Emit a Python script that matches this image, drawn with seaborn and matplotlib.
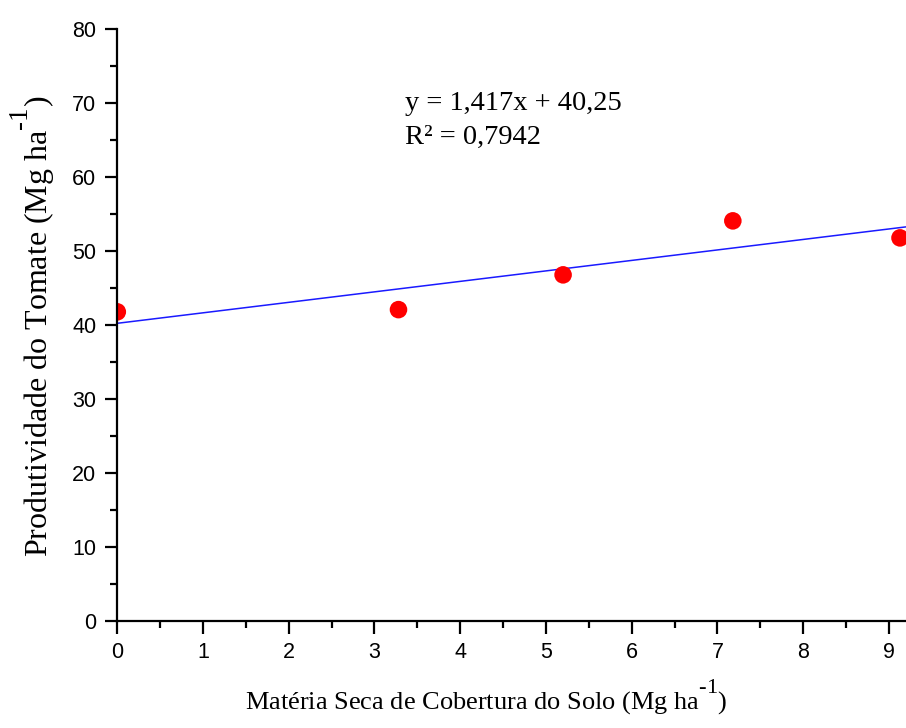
import numpy as np
import pandas as pd
import matplotlib
matplotlib.use("Agg")
import matplotlib.pyplot as plt
import matplotlib._mathtext as _mt
import seaborn as sns

# Data
materia_seca = [0.0, 3.28, 5.20, 7.18, 9.13]
produtividade = [41.8, 42.1, 46.8, 54.1, 51.8]
slope = 1.417
intercept = 40.25
eq_text = "y = 1,417x + 40,25"
r2_text = "R² = 0,7942"
x_ticks = [0, 1, 2, 3, 4, 5, 6, 7, 8, 9]
y_ticks = [0, 10, 20, 30, 40, 50, 60, 70, 80]

sns.set_style("white")
plt.rcParams["font.family"] = ["Liberation Sans", "DejaVu Sans"]
plt.rcParams["mathtext.fontset"] = "custom"
plt.rcParams["mathtext.rm"] = "Liberation Serif"
plt.rcParams["mathtext.it"] = "Liberation Serif:italic"
plt.rcParams["text.color"] = "black"
plt.rcParams["axes.labelcolor"] = "black"
plt.rcParams["xtick.color"] = "black"
plt.rcParams["ytick.color"] = "black"
try:
    _mt.SHRINK_FACTOR = 0.85
    _mt.FontConstantsBase.sup1 = 1.3
except Exception:
    pass

fig = plt.figure(figsize=(9.06, 7.28), dpi=100)
ax = fig.add_axes([117.3 / 906, (728 - 621) / 728, (906 - 117.3) / 906, (621 - 29.3) / 728])

df = pd.DataFrame({"x": materia_seca, "y": produtividade})
x_line = np.array([0.0, 9.2])
line_df = pd.DataFrame({"x": x_line, "y": slope * x_line + intercept})

sns.lineplot(data=line_df, x="x", y="y", ax=ax, color="#1a1aff", linewidth=1.1, zorder=2)
sns.scatterplot(data=df, x="x", y="y", ax=ax, color="#ff0000", s=160, edgecolor="none",
                zorder=2.2, clip_on=True)

ax.set_xlim(0, 9.2)
ax.set_ylim(0, 80)
ax.set_xticks(x_ticks)
ax.set_yticks(y_ticks)
ax.set_xticks(np.arange(0.5, 9.2, 1.0), minor=True)
ax.set_yticks(np.arange(5, 80, 10), minor=True)

for side in ["top", "right"]:
    ax.spines[side].set_visible(False)
for side in ["left", "bottom"]:
    ax.spines[side].set_linewidth(1.6)
    ax.spines[side].set_color("black")
    ax.spines[side].set_zorder(3)

ax.tick_params(axis="both", which="major", direction="out", length=9, width=1.6,
               labelsize=15.5, pad=6, color="black", labelcolor="black", left=True, bottom=True)
ax.tick_params(axis="both", which="minor", direction="out", length=5, width=1.6,
               color="black", left=True, bottom=True)

serif = ["Liberation Serif", "DejaVu Serif"]
ax.set_xlabel(r"Matéria Seca de Cobertura do Solo (Mg ha$^{\text{-1}}$)",
              fontsize=19, family=serif, color="black")
ax.set_ylabel(r"Produtividade do Tomate (Mg ha$^{\text{-1}}$)",
              fontsize=23, family=serif, color="black")
ax.xaxis.set_label_coords(0.4675, -0.095)
ax.yaxis.set_label_coords(-0.0765, 0.498)

ax.text(0.365, 0.8636, eq_text, transform=ax.transAxes, fontsize=20.5,
        family=serif, va="baseline", ha="left", color="black")
ax.text(0.365, 0.806, r2_text, transform=ax.transAxes, fontsize=20.5,
        family=serif, va="baseline", ha="left", color="black")

fig.savefig("out.png", dpi=100)
